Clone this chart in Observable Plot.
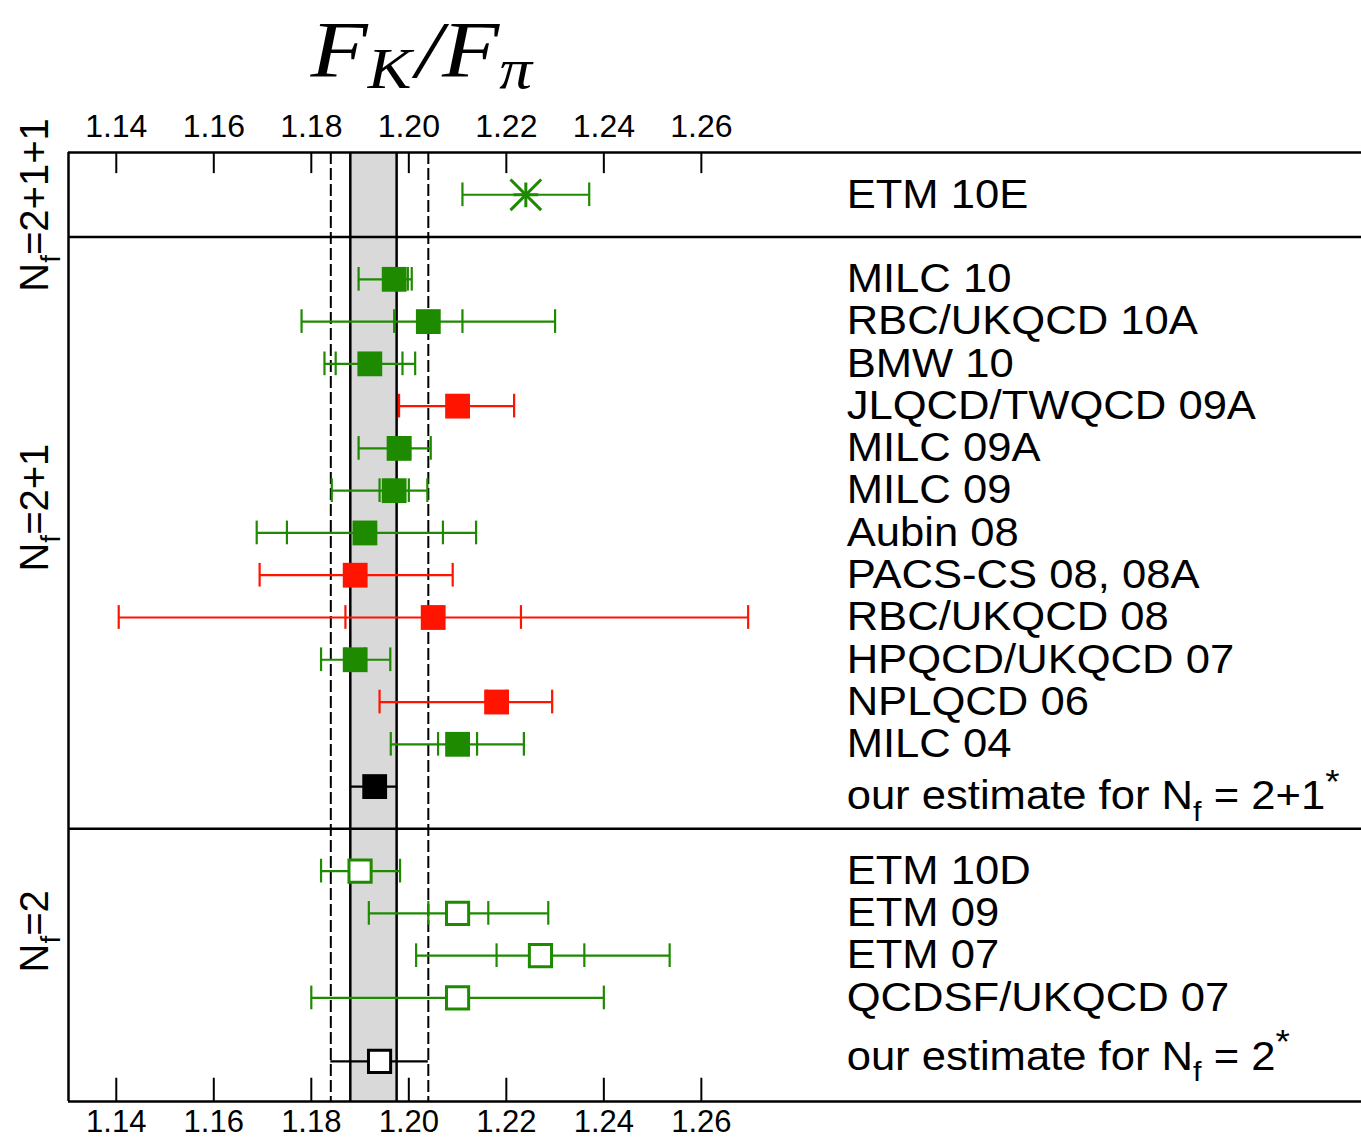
<!DOCTYPE html>
<html><head><meta charset="utf-8">
<script src="https://cdn.jsdelivr.net/npm/d3@7"></script>
<script src="https://cdn.jsdelivr.net/npm/@observablehq/plot@0.6"></script>
<style>body{margin:0;background:#fff}#chart{width:1361px;height:1141px;overflow:hidden}</style>
</head><body><div id="chart"></div><script>
// ---- data ----
const labels = ["ETM 10E","MILC 10","RBC/UKQCD 10A","BMW 10","JLQCD/TWQCD 09A","MILC 09A","MILC 09","Aubin 08",
  "PACS-CS 08, 08A","RBC/UKQCD 08","HPQCD/UKQCD 07","NPLQCD 06","MILC 04","our estimate for N_f = 2+1^*",
  "ETM 10D","ETM 09","ETM 07","QCDSF/UKQCD 07","our estimate for N_f = 2^*"];
const nf = ["2+1+1","2+1","2+1","2+1","2+1","2+1","2+1","2+1","2+1","2+1","2+1","2+1","2+1","2+1","2","2","2","2","2"];
const central = [1.224,1.197,1.204,1.192,1.210,1.198,1.197,1.191,1.189,1.205,1.189,1.218,1.210,1.193,1.190,1.210,1.227,1.210,1.194];
const innerLo = [null,1.195,1.197,1.185,null,1.196,1.194,1.175,null,1.187,1.187,1.216,1.206,null,null,1.204,1.218,null,null];
const innerHi = [null,1.1998,1.211,1.1987,null,1.2003,1.200,1.207,null,1.223,1.191,1.220,1.214,null,null,1.2163,1.236,null,null];
const outerLo = [1.211,1.1897,1.178,1.1827,1.198,1.1897,1.1842,1.1688,1.1694,1.1405,1.1820,1.1940,1.1963,1.188,1.182,1.1918,1.2015,1.180,1.184];
const outerHi = [1.237,1.2006,1.230,1.2013,1.2216,1.2045,1.2038,1.2138,1.209,1.2696,1.1962,1.2294,1.2236,1.1975,1.1982,1.2286,1.2535,1.240,1.204];
const marker = ["star","filled","filled","filled","filled","filled","filled","filled","filled","filled","filled","filled","filled","estimate",
  "open","open","open","open","estimateOpen"];
const quality = ["green","green","green","green","red","green","green","green","red","red","green","red","green","estimate",
  "green","green","green","green","estimate"];
const xTicks = [1.14,1.16,1.18,1.20,1.22,1.24,1.26];
const groupNames = ["2+1+1","2+1","2"];
const titleText = "F_K/F_π";

// ---- layout / style ----
const colorOf = {green:"#1e8a00", red:"#ff1400", estimate:"#000000"};
const xDomain = [1.1302, 1.3954];
const yDomain = [-1, 21.45];
const labelX = 1.2898;
const groupLabelShift = {"2+1+1": 0.24, "2+1": -0.6, "2": -0.8};

const slots = [];
let s = 0;
labels.forEach((_, i) => {
  if (i > 0) s += nf[i] !== nf[i-1] ? 2 : (marker[i] === "estimateOpen" ? 1.5 : 1);
  slots.push(s);
});
const rows = labels.map((label, i) => ({label, nf: nf[i], slot: slots[i], v: central[i],
  innerLo: innerLo[i], innerHi: innerHi[i], outerLo: outerLo[i], outerHi: outerHi[i],
  marker: marker[i], color: colorOf[quality[i]]}));

const est21 = rows.find(d => d.marker === "estimate");
const est2 = rows.find(d => d.marker === "estimateOpen");

const dividers = [];
for (let i = 1; i < rows.length; i++) if (rows[i].nf !== rows[i-1].nf) dividers.push((rows[i].slot + rows[i-1].slot) / 2);

const caps = rows.filter(d => !d.marker.startsWith("estimate")).flatMap(d =>
  Array.from(new Set([d.outerLo, d.outerHi, d.innerLo, d.innerHi].filter(v => v != null)))
    .map(x => ({x, slot: d.slot, color: d.color})));

const groups = groupNames.map(g => {
  const r = rows.filter(d => d.nf === g);
  const lo = dividers.concat([yDomain[0]]).filter(v => v < r[0].slot);
  const hi = dividers.concat([yDomain[1]]).filter(v => v > r[r.length-1].slot);
  const mid = (Math.max(...lo) + Math.min(...hi)) / 2;
  return {name: "N_f=" + g, slot: mid + groupLabelShift[g]};
});

const labelOpts = {x: () => labelX, y: "slot", text: "label", textAnchor: "start", lineAnchor: "middle", fontSize: 40};

const svg = Plot.plot({
  width: 1361, height: 1141,
  marginLeft: 68, marginRight: 0, marginTop: 152, marginBottom: 40,
  x: {domain: xDomain},
  y: {domain: yDomain, reverse: true, axis: null},
  color: {type: "identity"},
  style: {fontFamily: "'Liberation Sans', Arial, sans-serif", background: "white", color: "black", overflow: "visible"},
  marks: [
    Plot.rect([est21], {x1: "outerLo", x2: "outerHi", fill: "#d9d9d9"}),
    Plot.ruleX([est21.outerLo, est21.outerHi], {stroke: "black", strokeWidth: 2.5}),
    Plot.ruleX([est2.outerLo, est2.outerHi], {stroke: "black", strokeWidth: 2, strokeDasharray: "12,4"}),
    Plot.ruleY([yDomain[0], ...dividers, yDomain[1]], {stroke: "black", strokeWidth: 2.5}),
    Plot.ruleX([xDomain[0]], {stroke: "black", strokeWidth: 2.5}),
    Plot.ruleX(xTicks, {y1: yDomain[0], y2: yDomain[0] + 0.5, stroke: "black", strokeWidth: 2}),
    Plot.ruleX(xTicks, {y1: yDomain[1] - 0.55, y2: yDomain[1], stroke: "black", strokeWidth: 2}),
    Plot.axisX({anchor: "top", ticks: xTicks, tickSize: 0, tickPadding: 16, tickFormat: d3.format(".2f"), fontSize: 32, label: null}),
    Plot.axisX({anchor: "bottom", ticks: xTicks, tickSize: 0, tickPadding: 8, tickFormat: d3.format(".2f"), fontSize: 31, label: null}),
    Plot.ruleY(rows, {y: "slot", x1: "outerLo", x2: "outerHi", stroke: "color", strokeWidth: 2.2}),
    Plot.ruleX(caps, {x: "x", y1: d => d.slot - 0.28, y2: d => d.slot + 0.28, stroke: "color", strokeWidth: 2.2}),
    Plot.dot(rows.filter(d => d.marker === "filled" || d.marker === "estimate"),
      {x: "v", y: "slot", symbol: "square", r: 14, fill: "color", stroke: null}),
    Plot.dot(rows.filter(d => d.marker === "open" || d.marker === "estimateOpen"),
      {x: "v", y: "slot", symbol: "square", r: 12.5, fill: "white", stroke: "color", strokeWidth: 3}),
    Plot.dot(rows.filter(d => d.marker === "star"), {x: "v", y: "slot", symbol: "times", r: 14, stroke: "color", strokeWidth: 3}),
    Plot.dot(rows.filter(d => d.marker === "star"), {x: "v", y: "slot", symbol: "plus", r: 8, stroke: "color", strokeWidth: 3}),
    Plot.text(rows.filter(d => !d.marker.startsWith("estimate")), labelOpts),
    Plot.text(rows.filter(d => d.marker === "estimate"), {...labelOpts, dy: 10}),
    Plot.text(rows.filter(d => d.marker === "estimateOpen"), {...labelOpts, dy: -4}),
    Plot.text(groups, {frameAnchor: "left", dx: -33, y: "slot", text: "name", rotate: -90, textAnchor: "middle", lineAnchor: "middle", fontSize: 40}),
    Plot.text([titleText], {frameAnchor: "top-left", dx: 242, dy: -76, textAnchor: "start", lineAnchor: "bottom",
      fontSize: 80, fontFamily: "'Liberation Serif', 'DejaVu Serif', serif", fontStyle: "italic"})
  ]
});
document.getElementById("chart").append(svg);

// rich text: _x subscript, ^x superscript
function richify(el, subOff, supOff, supScale) {
  const str = el.textContent;
  if (!/[_^]/.test(str)) return false;
  const fs = parseFloat(getComputedStyle(el).fontSize);
  const tokens = [];
  let buf = "";
  for (let i = 0; i < str.length; i++) {
    const c = str[i];
    if ((c === "_" || c === "^") && i + 1 < str.length) {
      if (buf) tokens.push({t: buf, m: 0}); buf = "";
      tokens.push({t: str[i+1], m: c === "_" ? 1 : 2}); i++;
    } else buf += c;
  }
  if (buf) tokens.push({t: buf, m: 0});
  el.textContent = "";
  let cur = 0;
  for (const tk of tokens) {
    const off = tk.m === 1 ? subOff * fs : tk.m === 2 ? -supOff * fs : 0;
    const ts = document.createElementNS("http://www.w3.org/2000/svg", "tspan");
    ts.textContent = tk.t;
    ts.setAttribute("dy", off - cur);
    if (tk.m === 1) ts.setAttribute("font-size", 0.7 * fs);
    if (tk.m === 2) ts.setAttribute("font-size", supScale * fs);
    cur = off;
    el.appendChild(ts);
  }
  return true;
}
const labelSet = new Set(labels);
d3.select(svg).selectAll("text").each(function() {
  const txt = this.textContent;
  const isRow = labelSet.has(txt);
  const isTitle = txt === titleText;
  if (isTitle) {
    richify(this, 0.14, 0, 1);
    this.querySelectorAll("tspan").forEach(ts => {
      if (ts.textContent.startsWith("/")) ts.setAttribute("dx", 4);
    });
  } else {
    richify(this, 0.28, 0.42, 0.85);
  }
  const tr = this.getAttribute("transform");
  if (tr && (isRow || isTitle)) this.setAttribute("transform", tr + ` scale(${isRow ? 1.09 : 1.17},1)`);
});
</script></body></html>
